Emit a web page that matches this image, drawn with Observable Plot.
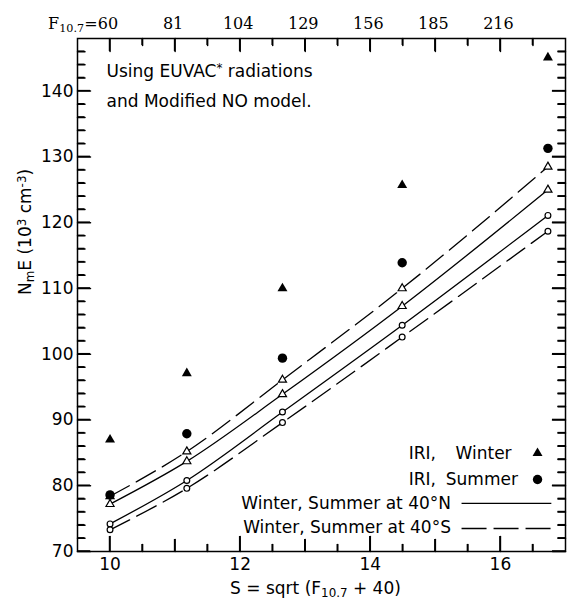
<!DOCTYPE html>
<html><head><meta charset="utf-8">
<script src="https://cdn.jsdelivr.net/npm/d3@7"></script>
<script src="https://cdn.jsdelivr.net/npm/@observablehq/plot@0.6"></script>
<style>body{margin:0;background:#fff}</style>
</head><body><div id="chart"></div>
<script>
// ---- data ----
const S_VALUES   = [10, 11.18, 12.65, 14.49, 16.73];
const IRI_WINTER = [87.0, 97.1, 110.0, 125.7, 145.1];
const IRI_SUMMER = [78.6, 87.9, 99.4, 113.9, 131.3];
const WINTER_40N = [77.2, 83.7, 93.9, 107.3, 125.0];
const WINTER_40S = [78.4, 85.2, 96.1, 110.0, 128.5];
const SUMMER_40N = [74.2, 80.8, 91.2, 104.4, 121.1];
const SUMMER_40S = [73.3, 79.6, 89.6, 102.6, 118.7];

// ---- ticks and labels ----
const X_MAJOR = [10, 12, 14, 16];
const X_INT   = [11, 13, 15];
const X_HALF  = [10.5, 11.5, 12.5, 13.5, 14.5, 15.5, 16.5];
const Y_MAJOR = [70, 80, 90, 100, 110, 120, 130, 140];
const Y_MINOR = [72, 74, 76, 78, 82, 84, 86, 88, 92, 94, 96, 98, 102, 104, 106, 108,
                 112, 114, 116, 118, 122, 124, 126, 128, 132, 134, 136, 138, 142, 144, 146];
const TOP_S      = [10, 11, 12, 13, 14, 15, 16];
const TOP_LABELS = ["60", "81", "104", "129", "156", "185", "216"];

const SERIES = [
  {name: "Winter 40N", values: WINTER_40N, dashed: false, symbol: "triangle"},
  {name: "Winter 40S", values: WINTER_40S, dashed: true,  symbol: "triangle"},
  {name: "Summer 40N", values: SUMMER_40N, dashed: false, symbol: "circle"},
  {name: "Summer 40S", values: SUMMER_40S, dashed: true,  symbol: "circle"}
];
const modelRows = SERIES.flatMap(s => S_VALUES.map((x, i) => ({S: x, N: s.values[i], series: s.name, symbol: s.symbol, dashed: s.dashed})));
const iriWRows = S_VALUES.map((x, i) => ({S: x, N: IRI_WINTER[i]}));
const iriSRows = S_VALUES.map((x, i) => ({S: x, N: IRI_SUMMER[i]}));
const topRows = TOP_S.map((s, i) => ({S: s, label: TOP_LABELS[i]}));

// ---- layout ----
const PW = 567, PH = 600, ML = 77, MR = 2, MT = 38, MB = 49;
const XD = [9.5, 17], YD = [70, 148];
const pxPerX = (PW - ML - MR) / (XD[1] - XD[0]);
const pxPerY = (PH - MT - MB) / (YD[1] - YD[0]);
const tx = px => px / pxPerX;   // pixel length -> x units
const ty = px => px / pxPerY;   // pixel length -> y units

// inward tick segments
const xTickPairs = (vals, y0, len, side) => vals.flatMap(v => [{S: v, N: y0, k: side + v}, {S: v, N: y0 + len, k: side + v}]);
const yTickPairs = (vals, x0, len, side) => vals.flatMap(v => [{S: x0, N: v, k: side + v}, {S: x0 + len, N: v, k: side + v}]);
const tickRows = [
  ...xTickPairs(X_MAJOR, YD[0], ty(15), "b"), ...xTickPairs(X_INT, YD[0], ty(12), "b"), ...xTickPairs(X_HALF, YD[0], ty(7), "b"),
  ...xTickPairs(TOP_S, YD[1], -ty(13), "t"), ...xTickPairs(X_HALF, YD[1], -ty(7), "t"),
  ...yTickPairs(Y_MAJOR, XD[0], tx(13), "l"), ...yTickPairs(Y_MINOR, XD[0], tx(7.5), "l"),
  ...yTickPairs(Y_MAJOR, XD[1], -tx(13), "r"), ...yTickPairs(Y_MINOR, XD[1], -tx(7.5), "r")
];

// legend layout (data coordinates)
const LEG = {markerX: 16.57, endX: 15.24, iriX: 14.59, winterX: 15.31, summerX: 15.16,
             lineX1: 15.41, lineX2: 16.79, rows: [84.95, 80.95, 77.33, 73.7]};

const chart = Plot.plot({
  width: PW, height: PH,
  marginLeft: ML, marginRight: MR, marginTop: MT, marginBottom: MB,
  x: {domain: XD, label: null},
  y: {domain: YD, label: null},
  style: {fontFamily: "DejaVu Sans", fontSize: "17px", background: "white", color: "black"},
  marks: [
    Plot.frame({fill: "none", stroke: "black", strokeWidth: 1.5}),
    // tick labels
    Plot.axisX(X_MAJOR, {anchor: "bottom", tickSize: 0, tickPadding: 6, label: null}),
    Plot.axisY(Y_MAJOR, {anchor: "left", tickSize: 0, tickPadding: 4, label: null}),
    // inward ticks, each a two-point segment
    Plot.line(tickRows, {x: "S", y: "N", z: "k", stroke: "black", strokeWidth: 1.5, curve: "linear"}),
    // top F10.7 labels
    Plot.text(topRows, {x: "S", text: "label", frameAnchor: "top", lineAnchor: "bottom", dy: -9.7, dx: -2,
                    fontFamily: "DejaVu Serif", fontSize: 16}),
    Plot.text(["F_{10.7}="], {x: () => TOP_S[0], frameAnchor: "top", lineAnchor: "bottom", dy: -9.7, dx: -12.5,
                    textAnchor: "end", fontFamily: "DejaVu Serif", fontSize: 16}),
    // axis titles
    Plot.text(["S = sqrt (F_{10.7} + 40)"], {frameAnchor: "bottom", lineAnchor: "middle", dy: 37, dx: -6}),
    Plot.text(["N_{m}E (10^{3} cm^{-3})"], {frameAnchor: "left", lineAnchor: "middle", rotate: -90, dx: -52}),
    // annotation
    Plot.text(["Using EUVAC^{*} radiations"], {frameAnchor: "top-left", textAnchor: "start", lineAnchor: "bottom", dx: 29, dy: 38.5}),
    Plot.text(["and Modified NO model."], {frameAnchor: "top-left", textAnchor: "start", lineAnchor: "bottom", dx: 29, dy: 68.5}),
    // model curves
    Plot.line(modelRows.filter(d => !d.dashed), {x: "S", y: "N", z: "series", stroke: "black", strokeWidth: 1.3, curve: "monotone-x"}),
    Plot.line(modelRows.filter(d => d.dashed), {x: "S", y: "N", z: "series", stroke: "black", strokeWidth: 1.3, curve: "monotone-x", strokeDasharray: "22,8"}),
    Plot.dot(modelRows.filter(d => d.symbol === "triangle"), {x: "S", y: "N", symbol: "triangle", r: 3, fill: "white", stroke: "black", strokeWidth: 1.2}),
    Plot.dot(modelRows.filter(d => d.symbol === "circle"), {x: "S", y: "N", symbol: "circle", r: 2.9, fill: "white", stroke: "black", strokeWidth: 1.2}),
    // IRI points
    Plot.dot(iriWRows, {x: "S", y: "N", symbol: "triangle", r: 3.7, fill: "black"}),
    Plot.dot(iriSRows, {x: "S", y: "N", symbol: "circle", r: 4.7, fill: "black"}),
    // legend
    Plot.text(["IRI,", "IRI,"], {x: () => LEG.iriX, y: (d, i) => LEG.rows[i], textAnchor: "start", lineAnchor: "middle"}),
    Plot.text(["Winter"], {x: () => LEG.winterX, y: () => LEG.rows[0], textAnchor: "start", lineAnchor: "middle"}),
    Plot.text(["Summer"], {x: () => LEG.summerX, y: () => LEG.rows[1], textAnchor: "start", lineAnchor: "middle"}),
    Plot.text(["Winter, Summer at 40°N", "Winter, Summer at 40°S"], {x: () => LEG.endX, y: (d, i) => LEG.rows[i + 2], textAnchor: "end", lineAnchor: "middle"}),
    Plot.dot([0], {x: () => LEG.markerX, y: () => LEG.rows[0], symbol: "triangle", r: 3.7, fill: "black"}),
    Plot.dot([0], {x: () => LEG.markerX, y: () => LEG.rows[1], symbol: "circle", r: 4.7, fill: "black"}),
    Plot.ruleY([LEG.rows[2]], {x1: LEG.lineX1, x2: LEG.lineX2, stroke: "black", strokeWidth: 1.3}),
    Plot.ruleY([LEG.rows[3] - 0.2], {x1: LEG.lineX1, x2: LEG.lineX2, stroke: "black", strokeWidth: 1.3, strokeDasharray: "25,7"})
  ]
});

// rich text: _{sub} and ^{sup}
d3.select(chart).selectAll("text").each(function () {
  const t = this.textContent;
  if (!/[_^]\{/.test(t)) return;
  const re = /([_^])\{([^}]*)\}/g;
  this.textContent = "";
  let last = 0, m;
  const sel = d3.select(this);
  while ((m = re.exec(t))) {
    if (m.index > last) sel.append("tspan").text(t.slice(last, m.index));
    sel.append("tspan").text(m[2]).attr("font-size", "70%")
       .attr("baseline-shift", m[1] === "_" ? "-25%" : "45%");
    last = re.lastIndex;
  }
  if (last < t.length) sel.append("tspan").text(t.slice(last));
});

// reinforce the inward ticks using Plot's own x/y scales
const sx = chart.scale("x"), sy = chart.scale("y");
const tickSegs = d3.groups(tickRows, d => d.k).map(([, pts]) => pts);
d3.select(chart).append("g").attr("aria-label", "inward ticks")
  .selectAll("line").data(tickSegs).join("line")
  .attr("x1", p => sx.apply(p[0].S)).attr("y1", p => sy.apply(p[0].N))
  .attr("x2", p => sx.apply(p[1].S)).attr("y2", p => sy.apply(p[1].N))
  .attr("stroke", "black").attr("stroke-width", 1.5);

document.getElementById("chart").append(chart);
</script></body></html>
